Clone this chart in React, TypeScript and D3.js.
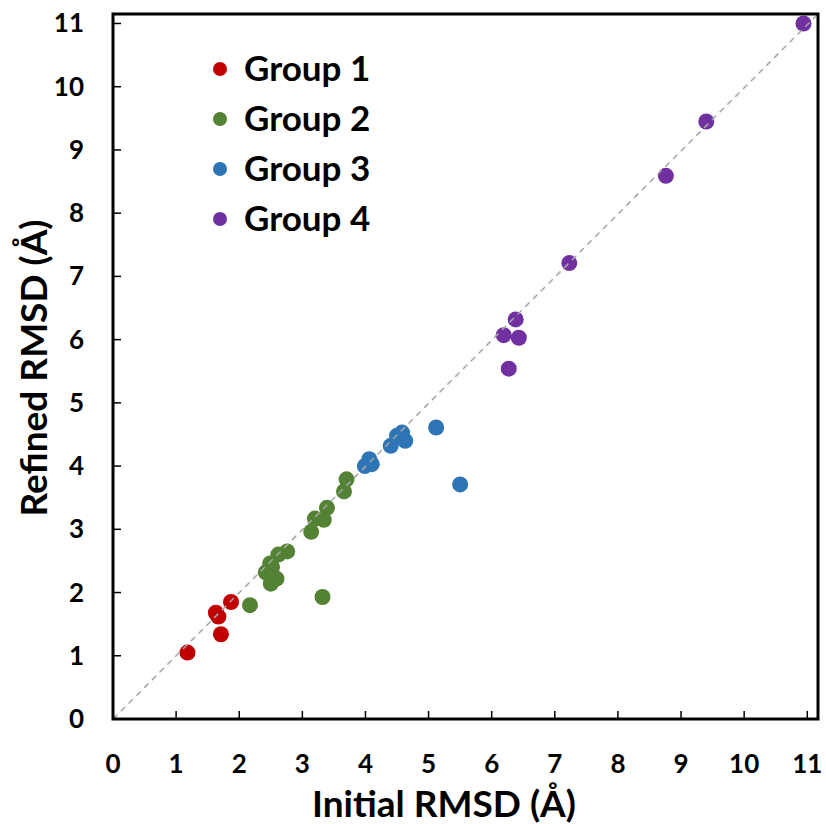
import React from "react";
import * as d3 from "d3";

const groupNames = ["Group 1", "Group 2", "Group 3", "Group 4"];
const groupColors = ["#C00000", "#548235", "#2E75B6", "#7030A0"];

const group1X = [1.18, 1.63, 1.67, 1.71, 1.87];
const group1Y = [1.05, 1.68, 1.62, 1.34, 1.85];

const group2X = [2.17, 3.32, 2.5, 2.59, 2.42, 2.49, 2.52, 2.62, 2.76, 3.14, 3.2, 3.34, 3.39, 3.66, 3.7];
const group2Y = [1.8, 1.93, 2.14, 2.22, 2.32, 2.46, 2.4, 2.6, 2.65, 2.96, 3.17, 3.15, 3.34, 3.6, 3.79];

const group3X = [3.99, 4.1, 4.06, 4.4, 4.5, 4.58, 4.63, 5.12, 5.5];
const group3Y = [4.0, 4.03, 4.11, 4.32, 4.48, 4.53, 4.4, 4.61, 3.71];

const group4X = [6.27, 6.19, 6.43, 6.38, 7.23, 8.76, 9.4, 10.94];
const group4Y = [5.54, 6.07, 6.03, 6.32, 7.21, 8.59, 9.45, 11.0];

const xTicks = [0, 1, 2, 3, 4, 5, 6, 7, 8, 9, 10, 11];
const yTicks = [0, 1, 2, 3, 4, 5, 6, 7, 8, 9, 10, 11];
const axisMax = [11.17, 11.15];

const groupsX = [group1X, group2X, group3X, group4X];
const groupsY = [group1Y, group2Y, group3Y, group4Y];

const FONT = "Lato, 'Open Sans', sans-serif";

export default function App() {
  const W = 826;
  const H = 824;
  const x = d3.scaleLinear().domain([0, axisMax[0]]).range([113, 818]);
  const y = d3.scaleLinear().domain([0, axisMax[1]]).range([719, 14]);

  return (
    <svg
      width={W}
      height={H}
      style={{ position: "absolute", left: 0, top: 0, background: "#fff" }}
    >
      <rect x={0} y={0} width={W} height={H} fill="#fff" />
      {groupsX.map((gx, gi) =>
        gx.map((v, i) => (
          <circle
            key={`p${gi}-${i}`}
            cx={x(v)}
            cy={y(groupsY[gi][i])}
            r={8}
            fill={groupColors[gi]}
          />
        ))
      )}
      <line
        x1={x(0)}
        y1={y(0)}
        x2={x(axisMax[0])}
        y2={y(axisMax[1])}
        stroke="#A6A6A6"
        strokeWidth={1.5}
        strokeDasharray="6,5"
      />
      <rect
        x={x(0)}
        y={y(axisMax[1])}
        width={x(axisMax[0]) - x(0)}
        height={y(0) - y(axisMax[1])}
        fill="none"
        stroke="#000"
        strokeWidth={3}
      />
      {xTicks.map((t) => (
        <g key={`xt${t}`}>
          {t > 0 && (
            <line x1={x(t)} x2={x(t)} y1={y(0)} y2={y(0) - 8} stroke="#000" strokeWidth={1.5} />
          )}
          <text
            x={x(t)}
            y={773}
            textAnchor="middle"
            fontFamily={FONT}
            fontWeight="bold"
            fontSize={26}
            fill="#000"
          >
            {t}
          </text>
        </g>
      ))}
      {yTicks.map((t) => (
        <g key={`yt${t}`}>
          {t > 0 && (
            <line x1={x(0)} x2={x(0) + 8} y1={y(t)} y2={y(t)} stroke="#000" strokeWidth={1.5} />
          )}
          <text
            x={84}
            y={y(t) + 9}
            textAnchor="end"
            fontFamily={FONT}
            fontWeight="bold"
            fontSize={26}
            fill="#000"
          >
            {t}
          </text>
        </g>
      ))}
      <text
        x={444}
        y={817}
        textAnchor="middle"
        fontFamily={FONT}
        fontWeight="bold"
        fontSize={37}
        fill="#000"
      >
        Initial RMSD (Å)
      </text>
      <text
        transform={`translate(47,368) rotate(-90)`}
        textAnchor="middle"
        fontFamily={FONT}
        fontWeight="bold"
        fontSize={37}
        fill="#000"
      >
        Refined RMSD (Å)
      </text>
      {groupNames.map((n, i) => (
        <g key={`lg${i}`} transform={`translate(0,${69 + i * 50})`}>
          <circle cx={220} cy={0} r={7} fill={groupColors[i]} />
          <text
            x={244}
            y={12}
            fontFamily={FONT}
            fontWeight="bold"
            fontSize={35}
            fill="#000"
          >
            {n}
          </text>
        </g>
      ))}
    </svg>
  );
}
